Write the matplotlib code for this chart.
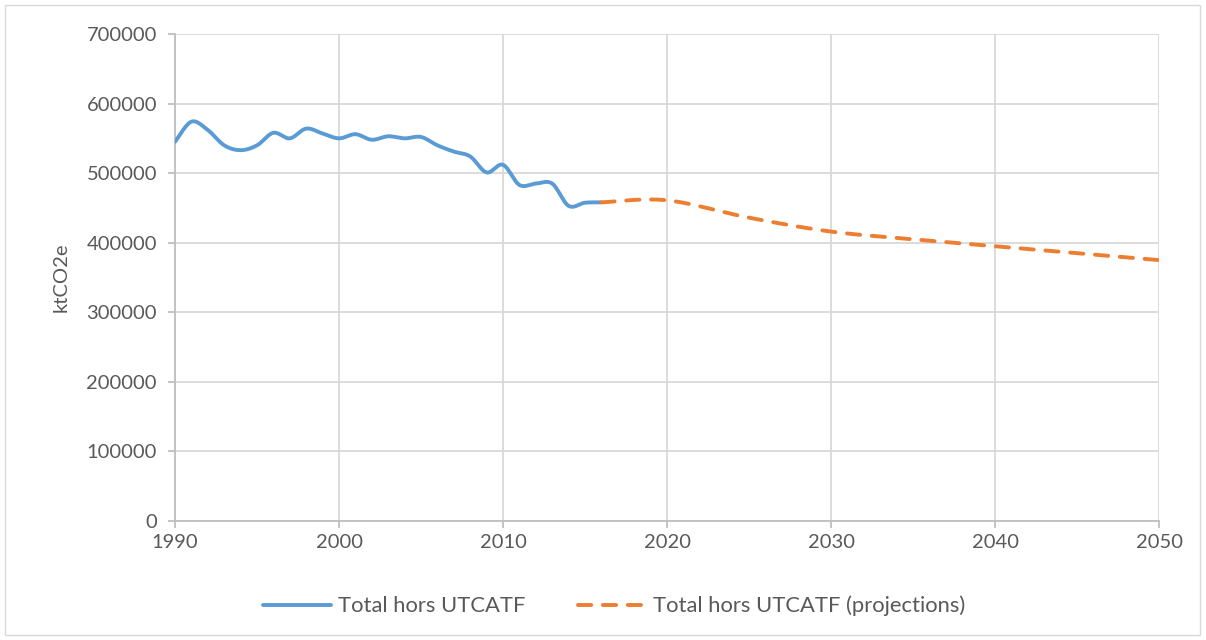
import numpy as np
import matplotlib
matplotlib.use("Agg")
import matplotlib.pyplot as plt
from matplotlib.patches import Rectangle

# ---- data ----
hist_years = list(range(1990, 2017))
hist_values = [545000, 574000, 562000, 540000, 533000, 540000, 558000, 550000,
               564000, 557000, 550000, 556000, 548000, 553000, 550000, 552000,
               540000, 531000, 524000, 501000, 512000, 483000, 485000, 485000,
               453000, 457500, 458000]
proj_years = [2016, 2020, 2025, 2030, 2035, 2040, 2045, 2050]
proj_values = [458000, 461000, 436000, 416000, 405000, 395000, 385000, 375000]
x_ticks = [1990, 2000, 2010, 2020, 2030, 2040, 2050]
y_ticks = [0, 100000, 200000, 300000, 400000, 500000, 600000, 700000]
label_hist = "Total hors UTCATF"
label_proj = "Total hors UTCATF (projections)"
y_label = "ktCO2e"

def smooth(xs, ys, n=30):
    """Catmull-Rom style Bezier smoothing (like Excel's smoothed line)."""
    xs = np.asarray(xs, float); ys = np.asarray(ys, float)
    px = np.concatenate([[xs[0]], xs, [xs[-1]]])
    py = np.concatenate([[ys[0]], ys, [ys[-1]]])
    ox, oy = [], []
    for i in range(1, len(px) - 2):
        p0 = np.array([px[i - 1], py[i - 1]]); p1 = np.array([px[i], py[i]])
        p2 = np.array([px[i + 1], py[i + 1]]); p3 = np.array([px[i + 2], py[i + 2]])
        c1 = p1 + (p2 - p0) / 6.0
        c2 = p2 - (p3 - p1) / 6.0
        t = np.linspace(0, 1, n)[:, None]
        b = ((1 - t) ** 3) * p1 + 3 * ((1 - t) ** 2) * t * c1 + 3 * (1 - t) * t ** 2 * c2 + t ** 3 * p2
        if i > 1:
            b = b[1:]
        ox.extend(b[:, 0]); oy.extend(b[:, 1])
    return np.array(ox), np.array(oy)

plt.rcParams['font.family'] = ['Lato', 'DejaVu Sans']
txt_color = '#595959'

fig = plt.figure(figsize=(12.06, 6.40), dpi=100)
fig.patches.append(Rectangle((5 / 1206, 5 / 640), 1195 / 1206, 630 / 640, transform=fig.transFigure,
                             fill=False, edgecolor='#d9d9d9', linewidth=1.0))
ax = fig.add_axes([175 / 1206, 1 - 521 / 640, (1159 - 175) / 1206, (521 - 34) / 640])

hx, hy = smooth(hist_years, hist_values)
px_, py_ = smooth(proj_years, proj_values)
ax.plot(hx, hy, color='#5B9BD5', lw=2.8, solid_capstyle='round', label=label_hist, zorder=3)
ax.plot(px_, py_, color='#ED7D31', lw=2.8, linestyle=(0, (3.4, 3.0)), dash_capstyle='round',
        label=label_proj, zorder=3)

ax.set_xlim(1990, 2050)
ax.set_ylim(0, 700000)
ax.set_xticks(x_ticks)
ax.set_yticks(y_ticks)
ax.set_yticklabels([str(v) for v in y_ticks])
ax.grid(True, color='#d9d9d9', linewidth=1.3)
ax.set_axisbelow(True)
for s in ['top', 'right']:
    ax.spines[s].set_visible(False)
for s in ['left', 'bottom']:
    ax.spines[s].set_color('#bfbfbf')
    ax.spines[s].set_linewidth(1.3)
ax.tick_params(axis='both', colors='#bfbfbf', labelcolor=txt_color, labelsize=14.5, length=5, width=1.3)
ax.tick_params(axis='x', pad=4)
ax.tick_params(axis='y', pad=8)
ax.set_ylabel(y_label, color=txt_color, fontsize=14.5, labelpad=12)

leg = fig.legend(loc='center', bbox_to_anchor=(614 / 1206, 1 - 606 / 640), ncol=2, frameon=False,
                 fontsize=15.8, handlelength=3.1, handletextpad=0.3, columnspacing=2.4)
for t in leg.get_texts():
    t.set_color(txt_color)

fig.savefig('out.png', dpi=100)
